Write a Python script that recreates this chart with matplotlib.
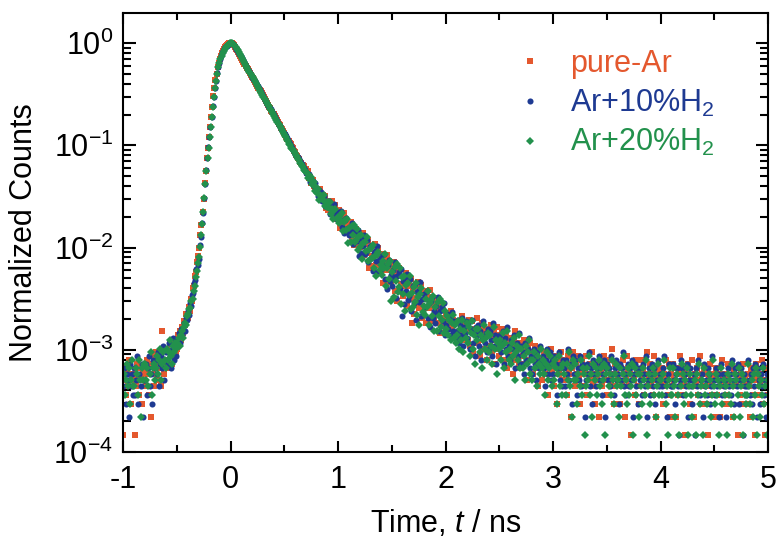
import numpy as np
import matplotlib
matplotlib.use("Agg")
import matplotlib.pyplot as plt
from matplotlib.ticker import LogLocator, MultipleLocator, FuncFormatter, NullFormatter

plt.rcParams['font.family'] = ['Liberation Sans', 'DejaVu Sans']
plt.rcParams['mathtext.fontset'] = 'custom'
plt.rcParams['mathtext.rm'] = 'Liberation Sans'
plt.rcParams['mathtext.it'] = 'Liberation Sans:italic'
plt.rcParams['mathtext.bf'] = 'Liberation Sans:bold'
plt.rcParams['axes.unicode_minus'] = False

# Time-resolved photon counts, 10 ps channels starting at -1 ns
T_START = -1.0
T_STEP = 0.01
labels = ["pure-Ar", r"Ar+10%H$_2$", r"Ar+20%H$_2$"]
time_zero_shift = [0.0, 0.0033, 0.0067]

counts_pure_ar = [
    2, 7, 9, 5, 8, 6, 11, 4, 7, 8,
    8, 2, 6, 10, 7, 5, 9, 7, 4, 8,
    9, 6, 11, 8, 5, 10, 3, 12, 8, 6,
    10, 13, 7, 9, 11, 6, 21, 10, 8, 14,
    11, 14, 9, 13, 16, 12, 10, 15, 17, 13,
    14, 19, 16, 21, 17, 23, 20, 26, 24, 31,
    28, 36, 33, 43, 41, 55, 57, 72, 79, 98,
    112, 137, 183, 229, 306, 410, 581, 765, 1035, 1292,
    1650, 2061, 2610, 3271, 4122, 4985, 5901, 6893, 7958, 8790,
    9601, 10290, 10975, 11530, 12066, 12490, 12885, 13170, 13440, 13602,
    13700, 13622, 13431, 13091, 12610, 12130, 11660, 11170, 10695, 10215,
    9735, 9330, 8925, 8585, 8250, 7905, 7575, 7255, 6950, 6660,
    6452, 6178, 5941, 5680, 5463, 5226, 5025, 4806, 4622, 4419,
    4240, 4075, 3889, 3740, 3570, 3431, 3272, 3150, 3001, 2899,
    2775, 2641, 2550, 2427, 2340, 2226, 2148, 2044, 1971, 1880,
    1812, 1720, 1661, 1579, 1524, 1445, 1396, 1322, 1280, 1211,
    1172, 1108, 1085, 1027, 1001, 946, 925, 871, 851, 806,
    805, 737, 762, 655, 671, 589, 629, 622, 542, 537,
    489, 516, 478, 512, 401, 440, 444, 390, 436, 331,
    387, 317, 388, 339, 387, 300, 304, 354, 262, 314,
    264, 318, 215, 276, 278, 239, 298, 200, 234, 197,
    239, 200, 245, 167, 200, 146, 199, 210, 154, 165,
    140, 172, 154, 192, 115, 150, 158, 122, 164, 86,
    134, 91, 142, 112, 147, 93, 100, 135, 78, 115,
    86, 119, 62, 100, 103, 82, 117, 63, 85, 65,
    92, 69, 99, 52, 74, 41, 77, 86, 51, 60,
    46, 65, 57, 78, 37, 58, 63, 43, 68, 25,
    53, 31, 58, 44, 63, 35, 39, 59, 28, 50,
    35, 51, 25, 43, 45, 35, 53, 26, 37, 28,
    41, 31, 44, 25, 34, 20, 35, 38, 25, 28,
    31, 25, 30, 23, 28, 33, 22, 27, 20, 26,
    26, 20, 25, 18, 24, 29, 19, 23, 17, 22,
    24, 17, 27, 15, 21, 26, 13, 22, 19, 28,
    16, 23, 12, 21, 25, 17, 14, 22, 19, 11,
    20, 15, 24, 13, 18, 21, 10, 17, 23, 14,
    12, 19, 15, 22, 11, 17, 20, 9, 16, 13,
    18, 12, 15, 8, 17, 21, 11, 14, 10, 16,
    9, 15, 12, 17, 10, 13, 7, 14, 11, 16,
    13, 8, 11, 15, 9, 12, 6, 10, 14, 9,
    7, 11, 13, 8, 10, 5, 12, 9, 14, 8,
    10, 6, 12, 9, 4, 11, 8, 13, 7, 9,
    11, 7, 9, 5, 12, 8, 10, 3, 9, 13,
    6, 10, 8, 12, 7, 4, 9, 11, 8, 6,
    9, 12, 5, 8, 10, 7, 13, 6, 8, 4,
    10, 7, 9, 3, 11, 8, 6, 12, 9, 7,
    5, 9, 11, 7, 8, 14, 6, 4, 10, 8,
    7, 10, 4, 9, 6, 11, 8, 3, 7, 12,
    9, 6, 8, 2, 10, 7, 5, 11, 8, 6,
    4, 8, 11, 7, 9, 5, 8, 13, 6, 7,
    10, 6, 8, 5, 12, 7, 3, 9, 8, 6,
    7, 9, 4, 8, 6, 11, 7, 5, 10, 3,
    8, 6, 10, 7, 3, 9, 5, 8, 12, 6,
    5, 9, 7, 2, 8, 6, 10, 4, 7, 11,
    7, 3, 8, 6, 9, 5, 7, 12, 4, 8,
    9, 6, 4, 8, 2, 7, 10, 6, 5, 8,
    3, 7, 9, 5, 8, 3, 6, 11, 7, 4,
    8, 5, 7, 10, 4, 6, 9, 3, 8, 6,
    6, 9, 2, 7, 5, 8, 4, 10, 6, 7,
    4, 8, 6, 3, 9, 7, 5, 8, 2, 10,
    7, 5, 8, 6, 11, 4, 7, 2, 9, 6,
    5,
]

counts_ar_h2_10 = [
    6, 9, 4, 8, 7, 3, 10, 6, 8, 5,
    9, 5, 7, 12, 4, 8, 6, 10, 3, 7,
    7, 10, 5, 9, 12, 6, 8, 4, 11, 9,
    11, 8, 13, 6, 10, 12, 9, 15, 7, 11,
    13, 10, 16, 12, 9, 14, 18, 11, 15, 12,
    17, 15, 20, 16, 22, 19, 25, 21, 28, 27,
    33, 30, 39, 37, 47, 49, 62, 66, 84, 92,
    107, 145, 173, 238, 296, 421, 569, 777, 1020, 1309,
    1638, 2079, 2596, 3289, 4101, 4997, 5882, 6911, 7937, 8812,
    9578, 10312, 10949, 11552, 12043, 12511, 12867, 13192, 13418, 13621,
    13695, 13640, 13418, 13072, 12590, 12118, 11652, 11158, 10692, 10210,
    9718, 9330, 8902, 8581, 8229, 7897, 7546, 7241, 6919, 6641,
    6379, 6126, 5851, 5625, 5374, 5166, 4932, 4742, 4529, 4353,
    4158, 3996, 3809, 3663, 3493, 3357, 3199, 3078, 2934, 2830,
    2710, 2579, 2487, 2366, 2281, 2170, 2093, 1991, 1921, 1826,
    1760, 1671, 1614, 1532, 1480, 1403, 1356, 1285, 1243, 1177,
    1139, 1082, 1052, 997, 971, 919, 897, 848, 828, 781,
    727, 742, 696, 721, 604, 628, 618, 554, 587, 488,
    517, 440, 498, 441, 480, 392, 395, 439, 347, 395,
    344, 394, 291, 350, 350, 308, 365, 266, 298, 258,
    305, 258, 309, 216, 255, 190, 254, 267, 199, 211,
    182, 218, 197, 240, 150, 191, 200, 157, 205, 114,
    169, 120, 175, 142, 181, 118, 125, 164, 100, 141,
    109, 145, 81, 122, 126, 102, 143, 80, 104, 81,
    112, 87, 119, 68, 92, 54, 93, 103, 65, 74,
    57, 82, 71, 99, 44, 72, 79, 54, 85, 29,
    64, 38, 71, 52, 75, 42, 46, 67, 33, 57,
    39, 60, 27, 50, 52, 40, 63, 29, 43, 31,
    48, 36, 51, 28, 39, 23, 41, 45, 28, 33,
    25, 37, 31, 45, 21, 33, 36, 26, 39, 19,
    24, 31, 22, 29, 19, 27, 32, 21, 26, 18,
    21, 27, 16, 24, 19, 28, 15, 23, 20, 26,
    18, 25, 14, 22, 27, 16, 20, 12, 23, 19,
    24, 15, 21, 11, 18, 26, 16, 20, 13, 22,
    14, 21, 17, 12, 25, 15, 19, 10, 18, 16,
    19, 13, 16, 21, 10, 18, 14, 23, 12, 15,
    11, 17, 14, 19, 9, 13, 16, 12, 20, 10,
    15, 10, 13, 8, 16, 11, 14, 18, 9, 12,
    8, 12, 14, 10, 7, 13, 11, 9, 15, 10,
    12, 9, 6, 11, 14, 8, 10, 13, 7, 11,
    8, 12, 10, 5, 9, 13, 7, 10, 6, 11,
    9, 6, 11, 8, 14, 7, 10, 4, 12, 8,
    11, 8, 5, 9, 7, 12, 6, 10, 9, 3,
    7, 10, 8, 13, 6, 9, 4, 11, 8, 10,
    6, 9, 12, 7, 10, 5, 8, 11, 3, 9,
    10, 7, 9, 6, 12, 8, 5, 9, 11, 7,
    8, 4, 10, 7, 9, 13, 6, 8, 5, 10,
    6, 9, 7, 11, 3, 8, 10, 6, 9, 4,
    9, 7, 5, 10, 8, 6, 12, 3, 7, 9,
    5, 8, 10, 6, 9, 4, 7, 11, 6, 8,
    8, 6, 9, 12, 5, 7, 3, 8, 10, 6,
    6, 10, 7, 4, 8, 9, 6, 2, 7, 11,
    9, 5, 8, 6, 10, 3, 7, 9, 6, 4,
    7, 8, 2, 9, 6, 11, 5, 7, 8, 3,
    10, 6, 7, 5, 9, 8, 4, 6, 12, 7,
    5, 9, 6, 8, 3, 7, 10, 5, 8, 6,
    7, 3, 9, 6, 8, 5, 11, 7, 4, 9,
    8, 6, 10, 4, 7, 9, 2, 8, 6, 5,
    6, 11, 7, 5, 8, 4, 9, 6, 10, 3,
    9, 7, 4, 8, 6, 10, 5, 7, 3, 8,
    6,
]

counts_ar_h2_20 = [
    8, 5, 7, 10, 6, 9, 4, 7, 11, 6,
    6, 9, 8, 5, 11, 7, 3, 9, 7, 10,
    10, 7, 9, 6, 8, 13, 5, 9, 10, 7,
    9, 12, 8, 11, 14, 7, 10, 13, 11, 9,
    14, 11, 13, 17, 12, 10, 15, 13, 16, 14,
    16, 18, 15, 19, 21, 18, 23, 25, 24, 29,
    31, 34, 35, 41, 43, 52, 58, 70, 80, 96,
    111, 139, 180, 231, 303, 414, 578, 768, 1031, 1296,
    1647, 2066, 2600, 3285, 4115, 4988, 5895, 6902, 7950, 8796,
    9594, 10296, 10962, 11541, 12060, 12498, 12874, 13183, 13422, 13607,
    13702, 13628, 13420, 13077, 12594, 12120, 11638, 11160, 10679, 10198,
    9720, 9309, 8911, 8552, 8226, 7860, 7539, 7201, 6908, 6597,
    6316, 6058, 5786, 5551, 5301, 5087, 4856, 4661, 4449, 4271,
    4077, 3914, 3735, 3587, 3421, 3287, 3134, 3012, 2871, 2761,
    2631, 2530, 2409, 2319, 2207, 2125, 2021, 1948, 1852, 1785,
    1697, 1636, 1553, 1500, 1423, 1375, 1303, 1260, 1193, 1155,
    1094, 1063, 1008, 981, 929, 905, 857, 836, 790, 771,
    746, 661, 708, 644, 674, 575, 564, 595, 495, 531,
    471, 510, 402, 448, 440, 398, 449, 352, 379, 340,
    382, 333, 381, 289, 324, 258, 318, 329, 261, 271,
    237, 278, 251, 301, 197, 243, 254, 203, 258, 151,
    214, 157, 221, 182, 226, 155, 161, 206, 131, 177,
    140, 180, 107, 153, 156, 128, 172, 102, 129, 103,
    137, 108, 144, 86, 113, 72, 116, 124, 83, 92,
    74, 101, 87, 119, 58, 87, 95, 68, 101, 41,
    79, 45, 88, 64, 94, 50, 56, 86, 38, 71,
    48, 72, 33, 59, 62, 47, 73, 34, 49, 36,
    56, 40, 61, 30, 45, 24, 48, 55, 32, 37,
    30, 43, 36, 52, 24, 39, 42, 29, 46, 21,
    36, 21, 40, 29, 43, 23, 27, 39, 20, 33,
    22, 29, 19, 27, 17, 25, 30, 18, 24, 16,
    19, 26, 14, 22, 17, 27, 13, 21, 18, 25,
    16, 23, 12, 20, 26, 14, 19, 10, 22, 17,
    22, 13, 19, 9, 17, 24, 14, 18, 11, 20,
    13, 19, 15, 10, 23, 14, 17, 8, 16, 14,
    17, 11, 15, 20, 9, 16, 13, 21, 11, 14,
    10, 16, 12, 18, 7, 13, 15, 11, 19, 9,
    14, 9, 12, 7, 15, 10, 13, 17, 8, 11,
    7, 11, 13, 9, 6, 12, 10, 8, 14, 9,
    11, 8, 5, 10, 13, 7, 9, 12, 6, 10,
    7, 11, 9, 4, 8, 12, 6, 9, 5, 10,
    8, 5, 10, 7, 13, 6, 9, 3, 11, 7,
    10, 7, 4, 8, 6, 11, 5, 9, 8, 2,
    6, 9, 7, 12, 5, 8, 3, 10, 7, 9,
    5, 8, 11, 6, 9, 4, 7, 10, 2, 8,
    9, 6, 8, 5, 11, 7, 4, 8, 10, 6,
    7, 3, 9, 6, 8, 12, 5, 7, 4, 9,
    5, 8, 6, 10, 2, 7, 9, 5, 8, 3,
    8, 6, 4, 9, 7, 5, 11, 2, 6, 8,
    4, 7, 9, 5, 8, 3, 6, 10, 5, 7,
    7, 5, 8, 11, 4, 6, 2, 7, 9, 5,
    5, 9, 6, 3, 7, 8, 5, 2, 6, 10,
    8, 4, 7, 5, 9, 2, 6, 8, 5, 3,
    6, 7, 2, 8, 5, 10, 4, 6, 7, 2,
    9, 5, 6, 4, 8, 7, 3, 5, 11, 6,
    4, 8, 5, 7, 2, 6, 9, 4, 7, 5,
    6, 2, 8, 5, 7, 4, 10, 6, 3, 8,
    7, 5, 9, 3, 6, 8, 2, 7, 5, 4,
    5, 10, 6, 4, 7, 3, 8, 5, 9, 2,
    8, 6, 3, 7, 5, 9, 4, 6, 2, 7,
    5,
]

series_counts = [counts_pure_ar, counts_ar_h2_10, counts_ar_h2_20]
colors = ["#e4582e", "#1e3a92", "#22914c"]
markers = ["s", "o", "D"]
marker_sizes = [3.9, 4.4, 4.2]

fig = plt.figure(figsize=(7.76, 5.46), dpi=100)
ax = fig.add_axes([123 / 776, 1 - 452 / 546, 645 / 776, 439 / 546])

lines = []
for counts, shift, label, color, marker, ms in zip(
        series_counts, time_zero_shift, labels, colors, markers, marker_sizes):
    c = np.asarray(counts, dtype=float)
    t = T_START + shift + T_STEP * np.arange(c.size)
    ln, = ax.plot(t, c / c.max(), linestyle="none", marker=marker, ms=ms,
                  mew=0, color=color, label=label)
    lines.append(ln)

ax.set_yscale("log")
ax.set_xlim(-1, 5)
ax.set_ylim(1e-4, 1.97)

ax.xaxis.set_major_locator(MultipleLocator(1))
ax.xaxis.set_minor_locator(MultipleLocator(0.5))
ax.yaxis.set_major_locator(LogLocator(base=10, numticks=10))
ax.yaxis.set_minor_locator(LogLocator(base=10, subs=np.arange(2, 10), numticks=20))
ax.yaxis.set_minor_formatter(NullFormatter())
ax.yaxis.set_major_formatter(
    FuncFormatter(lambda v, p: r"$10^{%d}$" % int(round(np.log10(v)))))

ax.tick_params(which="both", direction="in", top=True, right=True,
               width=1.5, labelsize=22, colors="black")
ax.tick_params(axis="x", which="major", length=8, pad=9)
ax.tick_params(axis="x", which="minor", length=5)
ax.tick_params(axis="y", which="major", length=9, pad=7)
ax.tick_params(axis="y", which="minor", length=5.5)
for sp in ax.spines.values():
    sp.set_linewidth(1.5)

ax.set_xlabel(r"Time, $t$ / ns", fontsize=22, labelpad=10)
ax.set_ylabel("Normalized Counts", fontsize=22, labelpad=10)

leg = ax.legend(loc="upper left", bbox_to_anchor=(0.607, 0.918), frameon=False,
                fontsize=22, handlelength=1.0, handletextpad=0.81,
                borderpad=0, borderaxespad=0, labelspacing=0.28)
for txt, ln in zip(leg.get_texts(), lines):
    txt.set_color(ln.get_color())

fig.savefig("out.png", dpi=100, facecolor="white")
